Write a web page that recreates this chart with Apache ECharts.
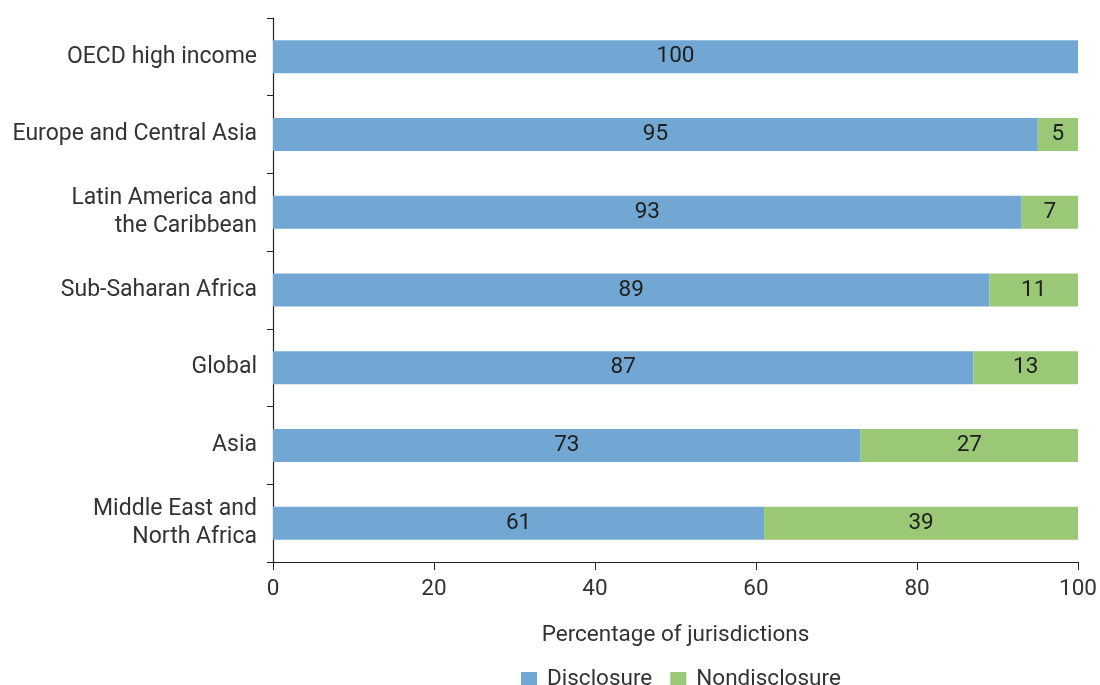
<!DOCTYPE html>
<html>
<head>
<meta charset="utf-8">
<script src="https://cdn.jsdelivr.net/npm/echarts@6/dist/echarts.min.js"></script>
<style>
  html, body { margin: 0; padding: 0; background: #fff; }
  #chart { width: 1100px; height: 685px; }
</style>
</head>
<body>
<div id="chart"></div>
<script>
const regions = [
  'OECD high income',
  'Europe and Central Asia',
  'Latin America and\nthe Caribbean',
  'Sub-Saharan Africa',
  'Global',
  'Asia',
  'Middle East and\nNorth Africa'
];
const disclosure = [100, 95, 93, 89, 87, 73, 61];
const nondisclosure = [0, 5, 7, 11, 13, 27, 39];
const xTicks = [0, 20, 40, 60, 80, 100];

const font = 'Roboto, "Liberation Sans", sans-serif';
const textColor = '#333';
const fs = 22.5;

const chart = echarts.init(document.getElementById('chart'));

// hide the zero segment label (OECD has no nondisclosure)
const segLabel = {
  show: true,
  position: 'inside',
  color: '#1e1e1e',
  fontSize: fs,
  fontFamily: font,
  formatter: (p) => (p.value ? String(p.value) : '')
};

chart.setOption({
  backgroundColor: '#fff',
  animation: false,
  textStyle: { fontFamily: font },
  grid: { left: 273, right: 21, top: 18, bottom: 123 },
  legend: {
    left: 516,
    top: 663,
    itemWidth: 16,
    itemHeight: 15,
    itemGap: 18,
    icon: 'rect',
    textStyle: { color: textColor, fontSize: fs, fontFamily: font, padding: [0, 0, 0, 5] },
    data: ['Disclosure', 'Nondisclosure']
  },
  xAxis: {
    type: 'value',
    min: xTicks[0],
    max: xTicks[xTicks.length - 1],
    interval: 20,
    name: 'Percentage of jurisdictions',
    nameLocation: 'middle',
    nameGap: 62,
    nameTextStyle: { color: textColor, fontSize: fs, fontFamily: font },
    axisLine: { show: true, lineStyle: { color: '#222', width: 1.2 } },
    axisTick: { show: true, length: 8, lineStyle: { color: '#222' } },
    axisLabel: { color: textColor, fontSize: fs, fontFamily: font, margin: 16 },
    splitLine: { show: false }
  },
  yAxis: {
    type: 'category',
    inverse: true,
    data: regions,
    axisLine: { show: true, lineStyle: { color: '#222', width: 1.2 } },
    axisTick: { show: true, length: 6, lineStyle: { color: '#222' } },
    axisLabel: {
      color: textColor,
      fontSize: 23,
      fontFamily: font,
      lineHeight: 28,
      margin: 16,
      align: 'right'
    }
  },
  series: [
    {
      name: 'Disclosure',
      type: 'bar',
      stack: 'total',
      barWidth: 33,
      itemStyle: { color: '#72a7d3' },
      label: segLabel,
      data: disclosure
    },
    {
      name: 'Nondisclosure',
      type: 'bar',
      stack: 'total',
      barWidth: 33,
      itemStyle: { color: '#9bc877' },
      label: segLabel,
      data: nondisclosure
    }
  ]
});
</script>
</body>
</html>
